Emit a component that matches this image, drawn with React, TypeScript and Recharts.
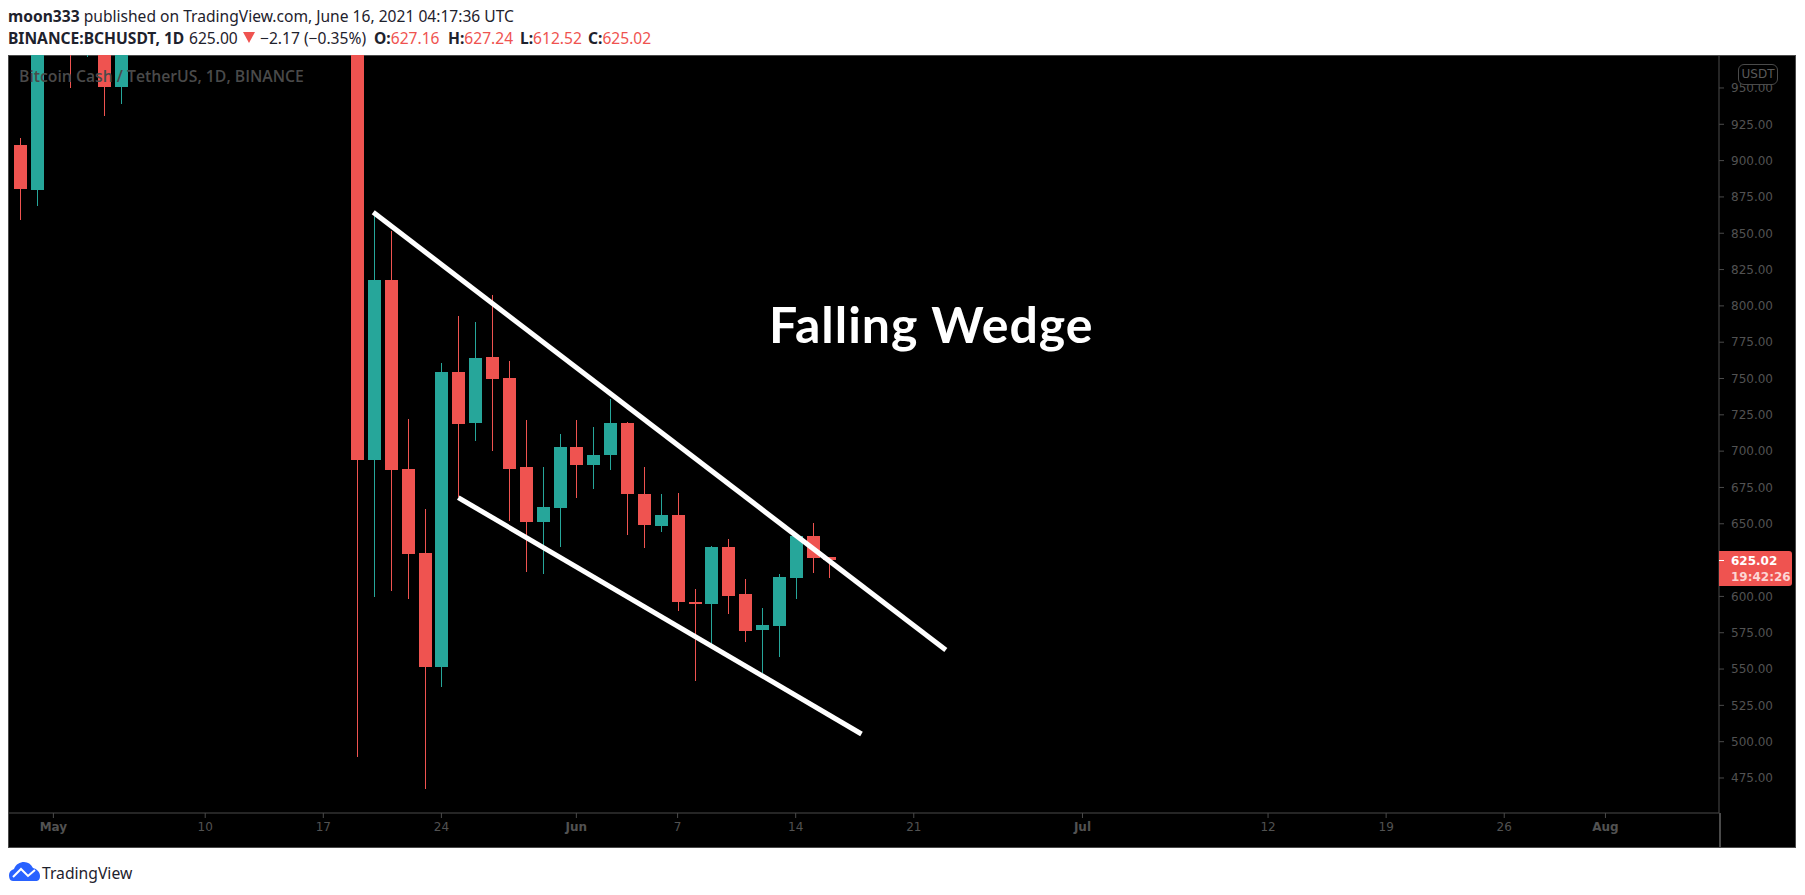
import React from "react";
import { ComposedChart, Bar, XAxis, YAxis, ReferenceLine } from "recharts";

// day number counted from May 1
const days = [-2, -1, 1, 2, 3, 4, 18, 19, 20, 21, 22, 23, 24, 25, 26, 27, 28, 29, 30, 31, 32, 33, 34, 35, 36, 37, 38, 39, 40, 41, 42, 43, 44, 45, 46];
const opens = [910.7, 879.8, 1040, 985, 1000, 950.7, 1050, 693.9, 817.8, 687.7, 629.9, 551.4, 754.5, 719.4, 764.8, 750.4, 689.1, 651.2, 660.9, 702.9, 690.5, 697.4, 719.4, 670.5, 648.5, 656.1, 596.2, 594.8, 634, 601.7, 576.9, 579.6, 612.7, 641.6, 627.16];
const highs = [915.6, 1012, 1060, 1020, 1020, 1030, 1080, 864, 851.5, 722.1, 660.2, 760.7, 793, 788.9, 807.5, 762.1, 721.5, 689.1, 711.8, 721.5, 716.6, 735.9, 720.3, 689.1, 670.5, 671.2, 605.1, 634.7, 639.5, 612, 592, 615.4, 642.3, 650.5, 627.24];
const lows = [859.1, 869, 950, 971.3, 930.7, 939, 489.7, 599.8, 604, 598.4, 467.6, 537.8, 668.4, 707, 700.1, 652.1, 617, 615.6, 634.2, 668, 674.2, 687, 642.3, 633.5, 644.3, 590, 541.8, 567.2, 587.9, 568.6, 547.3, 558.3, 598.2, 616, 612.52];
const closes = [880.5, 1005, 1000, 1010, 950.7, 1010, 693.9, 817.8, 687, 629.2, 551.4, 754.5, 718.7, 764.1, 749.7, 687.7, 651.2, 661.6, 702.9, 690.5, 697.4, 719.4, 670.5, 649.2, 656.1, 596.2, 594.8, 634, 600.3, 576.2, 580.3, 613.4, 641.6, 626.5, 625.02];

// 625.00 sits behind the last price label, so it is left out
const priceTicks = [475, 500, 525, 550, 575, 600, 650, 675, 700, 725, 750, 775, 800, 825, 850, 875, 900, 925, 950];
const timeTicks = [0, 9, 16, 23, 31, 37, 44, 51, 61, 72, 79, 86, 92];
const timeLabels = ["May", "10", "17", "24", "Jun", "7", "14", "21", "Jul", "12", "19", "26", "Aug"];

const upperWedge = [{ x: 18.96, y: 864.4 }, { x: 52.9, y: 563.1 }];
const lowerWedge = [{ x: 24, y: 668 }, { x: 47.9, y: 505.3 }];

const candles = days.map((day, i) => ({ day, open: opens[i], high: highs[i], low: lows[i], close: closes[i] }));

const UP = "#26a69a";
const DOWN = "#ef5350";
const AXIS = "#4a4a4a";
const AXIS_TEXT = "#525252";
const UI_FONT = '"Noto Sans", "Open Sans", sans-serif';
const AXIS_FONT = '"DejaVu Sans", sans-serif';

function Candle(props: any) {
  const { x, y, width, height, payload } = props;
  const { open, high, low, close } = payload;
  const perUnit = height / (high - low);
  const color = close >= open ? UP : DOWN;
  const top = y + (high - Math.max(open, close)) * perUnit;
  const bodyH = Math.max(Math.abs(open - close) * perUnit, 1);
  const cx = Math.round(x + width / 2);
  return (
    <g shapeRendering="crispEdges">
      <rect x={cx} y={y} width={1} height={height} fill={color} />
      <rect x={cx - 6} y={top} width={13} height={bodyH} fill={color} />
    </g>
  );
}

function TimeTick(props: any) {
  const { x, y, payload } = props;
  const label = timeLabels[timeTicks.indexOf(payload.value)];
  const isMonth = isNaN(Number(label));
  return (
    <text x={x} y={y} dy={9} textAnchor="middle" fill={AXIS_TEXT} fontFamily={AXIS_FONT} fontSize={12} fontWeight={isMonth ? 700 : 400}>
      {label}
    </text>
  );
}

const abs = (left: number, top: number, extra: React.CSSProperties = {}): React.CSSProperties => ({
  position: "absolute",
  left,
  top,
  whiteSpace: "nowrap",
  ...extra,
});

const headerText: React.CSSProperties = { fontFamily: UI_FONT, fontSize: 15.6, lineHeight: "20px", color: "#1e222d" };

export default function App() {
  return (
    <div style={{ position: "absolute", left: 0, top: 0, width: 1805, height: 895, background: "#fff", overflow: "hidden" }}>
      <div style={abs(8, 6, headerText)}>
        <b>moon333</b> published on TradingView.com, June 16, 2021 04:17:36 UTC
      </div>
      <div style={abs(8, 28, headerText)}>
        <b>BINANCE:BCHUSDT, 1D</b>
      </div>
      <div style={abs(189, 28, headerText)}>625.00</div>
      <svg style={abs(243, 32)} width={12} height={11}>
        <polygon points="0,0 12,0 6,11" fill={DOWN} />
      </svg>
      <div style={abs(260, 28, headerText)}>−2.17 (−0.35%)</div>
      {[
        ["O:", "627.16", 374],
        ["H:", "627.24", 448],
        ["L:", "612.52", 520],
        ["C:", "625.02", 588],
      ].map(([k, v, left]) => (
        <div key={k as string} style={abs(left as number, 28, headerText)}>
          <b>{k}</b>
          <span style={{ color: DOWN }}>{v}</span>
        </div>
      ))}

      <div style={abs(8, 55, { width: 1786, height: 791, background: "#000", border: `1.5px solid ${AXIS}` })} />

      <div style={abs(0, 0)}>
        <ComposedChart
          width={1805}
          height={848}
          data={candles}
          margin={{ top: 55, right: 8, bottom: 0, left: 8 }}
        >
          <XAxis
            dataKey="day"
            type="number"
            domain={[-2.69, 98.73]}
            allowDataOverflow
            ticks={timeTicks}
            interval={0}
            height={35}
            stroke={AXIS}
            tickSize={5}
            tickMargin={4}
            tick={<TimeTick />}
          />
          <YAxis
            orientation="right"
            type="number"
            domain={[450.9, 972.7]}
            allowDataOverflow
            ticks={priceTicks}
            interval={0}
            width={78}
            stroke={AXIS}
            tickSize={5}
            tickMargin={7}
            tick={{ fill: AXIS_TEXT, fontSize: 12, fontFamily: AXIS_FONT }}
            tickFormatter={(v: number) => v.toFixed(2)}
          />
          <Bar dataKey={(d: any) => [d.low, d.high]} barSize={13} shape={<Candle />} isAnimationActive={false} />
          <ReferenceLine segment={upperWedge} stroke="#fff" strokeWidth={5} />
          <ReferenceLine segment={lowerWedge} stroke="#fff" strokeWidth={5} />
        </ComposedChart>
      </div>

      <div style={abs(19, 66, { fontFamily: '"Open Sans", sans-serif', fontWeight: 600, fontSize: 15.75, lineHeight: "20px", color: AXIS })}>
        Bitcoin Cash / TetherUS, 1D, BINANCE
      </div>
      <div style={abs(769, 294, { fontFamily: '"Lato", sans-serif', fontWeight: 700, fontSize: 50, letterSpacing: 1, lineHeight: "60px", color: "#fff" })}>
        Falling Wedge
      </div>

      <div style={abs(1738, 64, { width: 38, height: 19, border: `1px solid ${AXIS}`, borderRadius: 6, background: "#000", color: "#5a5a5a", fontFamily: AXIS_FONT, fontSize: 12, lineHeight: "19px", textAlign: "center" })}>
        USDT
      </div>
      <div style={abs(1719, 551, { width: 73, height: 35, background: DOWN, borderRadius: "0 3px 3px 0", fontFamily: AXIS_FONT, fontSize: 12, fontWeight: 700, lineHeight: "16px" })}>
        <div style={{ position: "absolute", left: 0, top: 9, width: 5, height: 1, background: "#fff" }} />
        <div style={{ position: "absolute", left: 12, top: 2, color: "#fff" }}>625.02</div>
        <div style={{ position: "absolute", left: 12, top: 18, color: "#fcd5d4" }}>19:42:26</div>
      </div>
      <div style={abs(1719, 813, { width: 1.5, height: 35, background: AXIS })} />

      <svg style={abs(8, 861)} width={33} height={21} viewBox="0 0 33 21">
        <path d="M1 14 C1 11 3 9 6 8 C8 3 12 1 16 1 C20 1 23 3 25 7 C29 8 32 11 32 15 C32 19 30 20 28 20 L5 20 C2 20 1 17 1 14 Z" fill="#2962ff" />
        <polyline points="5,16 13,8 20,15 27,9" fill="none" stroke="#fff" strokeWidth={2} />
      </svg>
      <div style={abs(42, 861, { fontFamily: UI_FONT, fontSize: 15.7, lineHeight: "24px", color: "#1e222d" })}>TradingView</div>
    </div>
  );
}
